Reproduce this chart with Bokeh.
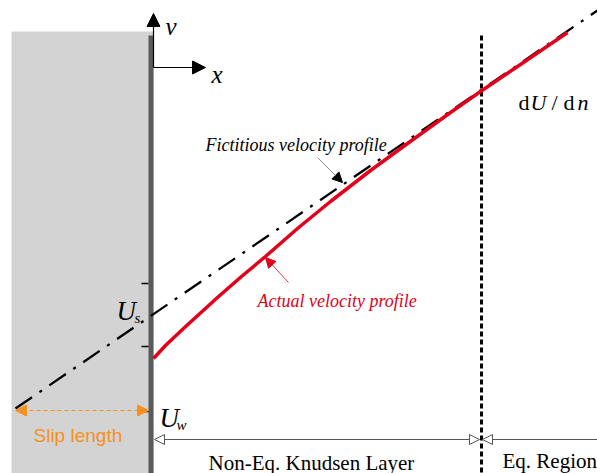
from bokeh.plotting import figure
from bokeh.models import Range1d, Arrow, NormalHead
from bokeh.core.properties import value
from bokeh.embed import file_html
from bokeh.resources import INLINE

# ---- data (n: distance from wall, U: velocity; both in drawing units) ----
wall_n = 0
solid_left = -142
solid_top = 380
wall_top = 376
tick_U = [128, 65, 0]          # marks on the wall (U_w at 0)
U_w = 0
U_s = 97                       # slip velocity (intercept of fictitious profile)
slip_length = 138
fict_n = [-138, 444]           # fictitious (linear) velocity profile
fict_U = [3, 401]
act_n = [0, 12, 30, 64, 88, 112, 144, 177, 217, 254, 297, 327, 367, 414]
act_U = [53, 66, 83, 114, 135, 155, 183, 210, 241, 268, 299, 320, 347, 379]
knudsen_edge = 328             # edge of Knudsen layer
layer_arrow_U = -28

SERIF = value("Liberation Serif")
SANS = value("Liberation Sans")
ORANGE = "#f7901e"
RED = "#e2001a"

p = figure(width=597, height=473, x_range=Range1d(-153, 444), y_range=Range1d(-62, 411),
           output_backend="svg", toolbar_location=None,
           x_axis_location=None, y_axis_location=None, min_border=0)
p.outline_line_color = None
p.grid.grid_line_color = None
p.background_fill_color = "white"
p.border_fill_color = "white"

# solid body and wall
p.quad(left=[solid_left], right=[wall_n], top=[solid_top], bottom=[-80],
       fill_color="#d3d3d3", line_color=None)
p.quad(left=[wall_n - 5], right=[wall_n], top=[wall_top], bottom=[-80],
       fill_color="#5a5a5a", line_color=None)

# ticks on wall
p.segment(x0=[wall_n - 12] * len(tick_U), x1=[wall_n - 5] * len(tick_U),
          y0=tick_U, y1=tick_U, line_color="black", line_width=1.5)

# axis arrows
p.add_layout(Arrow(end=NormalHead(size=13, fill_color="black", line_color="black"),
                   x_start=wall_n, y_start=344, x_end=wall_n, y_end=398,
                   line_color="black", line_width=1.2))
p.add_layout(Arrow(end=NormalHead(size=13, fill_color="black", line_color="black"),
                   x_start=wall_n, y_start=344, x_end=52, y_end=344,
                   line_color="black", line_width=1.2))

# dotted Knudsen layer edge
p.line(x=[knudsen_edge, knudsen_edge], y=[wall_top, -80], line_color="black",
       line_width=3, line_dash="5 3")

# fictitious profile (dash-dot)
p.line(x=fict_n, y=fict_U, line_color="black", line_width=2.3, line_dash="20 9 3 9")

# actual profile
p.line(x=act_n, y=act_U, line_color=RED, line_width=3.5, line_join="round")

# slip length arrow
p.add_layout(Arrow(start=NormalHead(size=11, fill_color=ORANGE, line_color=ORANGE),
                   end=NormalHead(size=11, fill_color=ORANGE, line_color=ORANGE),
                   x_start=wall_n - slip_length, y_start=U_w + 1,
                   x_end=wall_n - 5, y_end=U_w + 1,
                   line_color=ORANGE, line_width=1, line_dash="4 3"))

# layer arrows
p.add_layout(Arrow(start=NormalHead(size=10, fill_color="white", line_color="#555555", line_width=1),
                   end=NormalHead(size=10, fill_color="white", line_color="#555555", line_width=1),
                   x_start=wall_n + 1, y_start=layer_arrow_U,
                   x_end=knudsen_edge - 2, y_end=layer_arrow_U,
                   line_color="#555555", line_width=1))
p.add_layout(Arrow(end=NormalHead(size=10, fill_color="white", line_color="#555555", line_width=1),
                   x_start=450, y_start=layer_arrow_U,
                   x_end=knudsen_edge + 1, y_end=layer_arrow_U,
                   line_color="#555555", line_width=1))

# pointer arrows
p.add_layout(Arrow(end=NormalHead(size=10, fill_color="black", line_color="black"),
                   x_start=164, y_start=254, x_end=189, y_end=229,
                   line_color="#8a8a8a", line_width=1))
p.add_layout(Arrow(end=NormalHead(size=10, fill_color=RED, line_color=RED),
                   x_start=135, y_start=129, x_end=112, y_end=154,
                   line_color=RED, line_width=0.8))

def txt(x, y, s, size, style="normal", color="black", font=SERIF):
    p.text(x=[x], y=[y], text=[s], text_font=font, text_font_size=f"{size}px",
           text_font_style=style, text_color=color, text_align="left",
           text_baseline="alphabetic")

txt(12, 385, "v", 25, "italic")
txt(58, 337, "x", 25, "italic")
txt(52, 267, "Fictitious velocity profile", 18, "italic")
txt(104, 111, "Actual velocity profile", 18, "italic", RED)

# dU / dn
txt(365, 309, "d", 22)
txt(377, 309, "U", 22, "italic")
txt(398, 309, "/", 22)
txt(410, 309, "d", 22)
txt(424, 309, "n", 22, "italic")

# U_s and U_w
txt(-37, U_s + 4, "U", 27, "italic")
txt(-19, U_s - 3, "s", 15, "italic")
txt(6, U_w - 6, "U", 27, "italic")
txt(23, U_w - 13, "w", 15, "italic")

txt(-120, -24, "Slip length", 19, color=ORANGE, font=SANS)
txt(55, -51, "Non-Eq. Knudsen Layer", 21)
txt(349, -49, "Eq. Region", 21)

open("out.html", "w").write(file_html(p, INLINE))
